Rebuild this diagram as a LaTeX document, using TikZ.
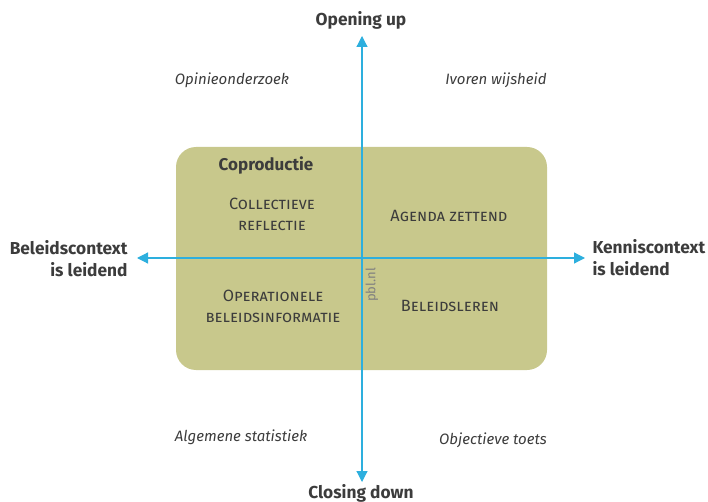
\documentclass[tikz,border=0pt]{standalone}
\usepackage{fontspec}
\setmainfont{Fira Sans}
\usetikzlibrary{arrows.meta}

\definecolor{asblauw}{RGB}{45,175,222}
\definecolor{veldgroen}{RGB}{200,200,140}
\definecolor{tekstgrijs}{RGB}{60,60,60}

\tikzset{
  as/.style={draw=asblauw, line width=1.2pt,
    {Triangle[width=11pt,length=11pt]}-{Triangle[width=11pt,length=11pt]}},
  pool/.style={text=tekstgrijs, font=\bfseries\fontsize{17.3}{22}\selectfont},
  hoek/.style={text=tekstgrijs, font=\itshape\fontsize{15}{18}\selectfont},
  modus/.style={text=tekstgrijs, align=center, font=\scshape\fontsize{16.3}{21}\selectfont},
}

\begin{document}
\begin{tikzpicture}[x=1pt,y=-1pt]
  \useasboundingbox (0,0) rectangle (708,502);

  % Coproductie field
  \node[fill=veldgroen, rounded corners=20pt, minimum width=371pt, minimum height=223pt,
        inner sep=0pt] (veld) at (361.5,258.5) {};
  \node[text=tekstgrijs, font=\bfseries\fontsize{17}{20}\selectfont] (coprod) at (266,165) {Coproductie};

  % Axis ends
  \coordinate (boven) at (362,36);
  \coordinate (onder) at (362,482);
  \coordinate (links) at (137,258);
  \coordinate (rechts) at (585,258);

  % Axis lines
  \draw[as] (onder) -- (boven);
  \draw[as] (links) -- (rechts);

  % Pole labels
  \node[pool] (opening) at (361,20) {Opening up};
  \node[pool] (closing) at (361,493) {Closing down};
  \node[pool, anchor=east, align=right] (beleid) at (131,259) {Beleidscontext\\is leidend};
  \node[pool, anchor=west, align=left] (kennis) at (589,258) {Kenniscontext\\is leidend};

  % Quadrants
  \node[modus] (reflectie) at (272,214) {Collectieve\\reflectie};
  \node[modus] (agenda) at (449,216) {Agenda zettend};
  \node[modus] (operationeel) at (273,306) {Operationele\\beleidsinformatie};
  \node[modus] (leren) at (450,306) {Beleidsleren};

  % Outer corners
  \node[hoek] (opinie) at (232,80) {Opinieonderzoek};
  \node[hoek] (ivoren) at (496,80) {Ivoren wijsheid};
  \node[hoek] (statistiek) at (241,437) {Algemene statistiek};
  \node[hoek] (toets) at (493,440) {Objectieve toets};

  \node[text=gray, rotate=90, font=\fontsize{13}{15}\selectfont] (bron) at (372,285) {pbl.nl};
\end{tikzpicture}
\end{document}
